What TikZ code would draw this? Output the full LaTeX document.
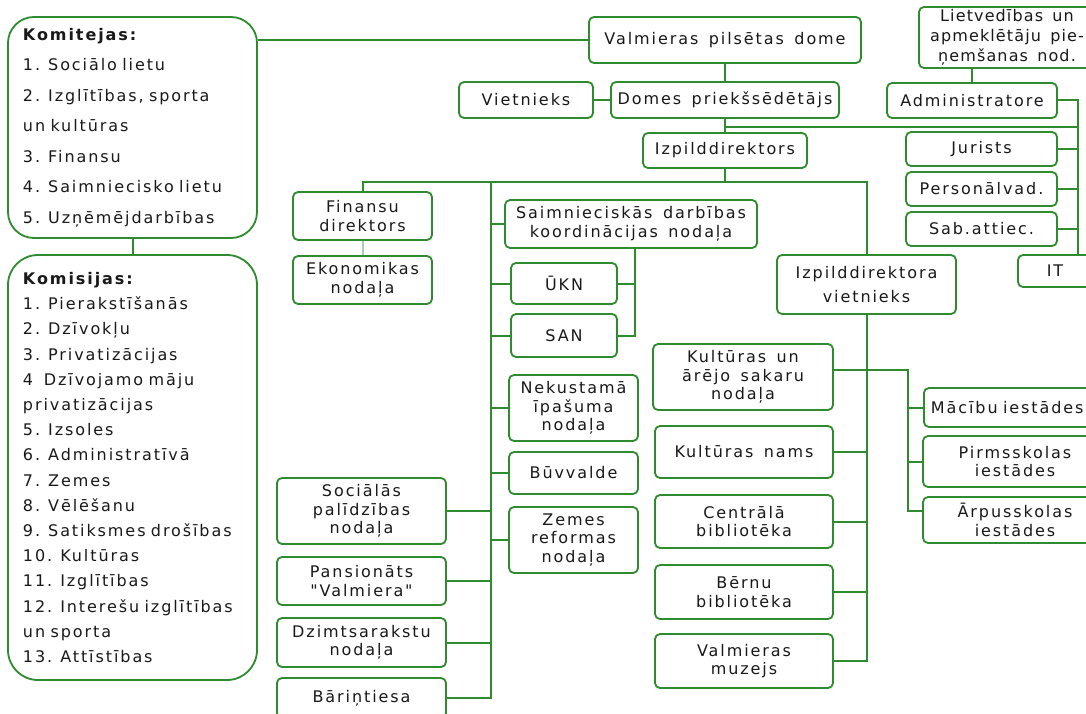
\documentclass[tikz,border=0pt]{standalone}
\usepackage{fontspec}
\setmainfont{DejaVu Sans}[LetterSpace=12,WordSpace=1.5]
\newfontfamily\plainquotefont{DejaVu Sans}[LetterSpace=12,WordSpace=1.5]
\definecolor{grn}{RGB}{46,139,46}
\definecolor{lgrn}{RGB}{170,210,170}
\tikzset{
 box/.style={draw=grn, line width=1.8pt, rounded corners=5pt, fill=white, inner sep=0pt, align=center, text=black!90, font=\fontsize{16}{18.5}\selectfont},
 bigbox/.style={box, rounded corners=26pt, align=left, inner xsep=15pt, text width=219pt},
 conn/.style={draw=grn, line width=2pt},
}
\newcommand\bx[7][]{\node[box,minimum width={(#5-#3)*1pt},minimum height={(#6-#4)*1pt},#1] (#2) at ({(#3+#5)/2},{(#4+#6)/2}) {#7};}
\begin{document}
\begin{tikzpicture}[x=1pt,y=-1pt]
\useasboundingbox (0,0) rectangle (1086,714);
\clip (0,0) rectangle (1086,714);
\fill[white] (0,0) rectangle (1086,714);
% left big boxes
\bx[bigbox,font=\fontsize{16}{30.5}\selectfont]{kom}{8}{17}{257}{238}{{\bfseries Komitejas:}\\1. Sociālo lietu\\2. Izglītības, sporta\\un kultūras\\3. Finansu\\4. Saimniecisko lietu\\5. Uzņēmējdarbības}
\bx[bigbox,rounded corners=30pt,font=\fontsize{16}{25.2}\selectfont]{koms}{8}{255}{257}{680}{{\bfseries Komisijas:}\\1. Pierakstīšanās\\2. Dzīvokļu\\3. Privatizācijas\\4~~Dzīvojamo māju\\privatizācijas\\5. Izsoles\\6. Administratīvā\\7. Zemes\\8. Vēlēšanu\\9. Satiksmes drošības\\10. Kultūras\\11. Izglītības\\12. Interešu izglītības\\un sporta\\13. Attīstības}
% top
\bx{dome}{589}{17}{861}{63}{Valmieras pilsētas dome}
\bx{viet}{459}{82}{593}{118}{Vietnieks}
\bx{pred}{611}{82}{839}{118}{Domes priekšsēdētājs}
\bx{izp}{643}{133}{807}{168}{Izpilddirektors}
% right top
\bx[font=\fontsize{16}{20}\selectfont\addfontfeatures{LetterSpace=7}]{lietv}{919}{7}{1095}{68}{Lietvedības un\\apmeklētāju pie-\\ņemšanas nod.}
\bx{admin}{887}{83}{1057}{118}{Administratore}
\bx{jur}{906}{132}{1057}{166}{Jurists}
\bx{pers}{906}{172}{1057}{206}{Personālvad.}
\bx{sab}{906}{212}{1057}{246}{Sab.attiec.}
\bx{it}{1018}{255}{1092}{287}{IT}
% middle
\bx{fin}{293}{192}{432}{240}{Finansu\\direktors}
\bx{eko}{293}{256}{432}{304}{Ekonomikas\\nodaļa}
\bx{saim}{505}{200}{757}{248}{Saimnieciskās darbības\\koordinācijas nodaļa}
\bx{ukn}{511}{263}{617}{304}{ŪKN}
\bx{san}{511}{314}{617}{357}{SAN}
\bx{nek}{509}{375}{638}{441}{Nekustamā\\īpašuma\\nodaļa}
\bx{buv}{509}{452}{638}{494}{Būvvalde}
\bx{zem}{509}{507}{638}{573}{Zemes\\reformas\\nodaļa}
\bx{soc}{277}{478}{446}{544}{Sociālās\\palīdzības\\nodaļa}
\bx[font=\fontsize{16}{18.5}\selectfont\plainquotefont]{pans}{277}{557}{446}{605}{Pansionāts\\"Valmiera"}
\bx{dz}{277}{618}{446}{667}{Dzimtsarakstu\\nodaļa}
\bx{bar}{277}{678}{446}{718}{Bāriņtiesa}
% right middle
\bx[font=\fontsize{16}{24}\selectfont]{izv}{777}{255}{956}{314}{Izpilddirektora\\vietnieks}
\bx{kult}{653}{344}{833}{410}{Kultūras un\\ārējo sakaru\\nodaļa}
\bx{knams}{655}{426}{833}{478}{Kultūras nams}
\bx{cent}{655}{495}{833}{548}{Centrālā\\bibliotēka}
\bx{bern}{655}{565}{833}{619}{Bērnu\\bibliotēka}
\bx{muz}{655}{634}{833}{688}{Valmieras\\muzejs}
\node[box,minimum height=39pt,text width=170pt,align=left,inner xsep=7pt,anchor=west] (mac) at (923,407.5) {Mācību iestādes};
\bx{pirm}{923}{436}{1107}{487}{Pirmsskolas\\iestādes}
\bx{ars}{923}{497}{1107}{543}{Ārpusskolas\\iestādes}
% connectors
\coordinate (tr) at (725,127);
\coordinate (rb) at (1078,255);
\coordinate (h) at (725,182);
\coordinate (vt) at (491,182);
\coordinate (bk) at (635,248);
\coordinate (sb) at (908,0);
\coordinate (sbb) at (908,511);
\draw[conn] (dome.west) -- (dome.west -| kom.east);
\draw[conn] (kom.south) -- (koms.north);
\draw[conn] (dome.south) -- (dome.south |- pred.north);
\draw[conn] (viet.east) -- (pred.west);
\draw[conn] (pred.south) -- (izp.north);
\draw[conn] (tr) -- (tr -| rb);
\draw[conn] (admin.east) -| (rb);
\draw[conn] (jur.east) -- (jur.east -| rb);
\draw[conn] (pers.east) -- (pers.east -| rb);
\draw[conn] (sab.east) -- (sab.east -| rb);
\draw[conn] (admin.north) -- (admin.north |- lietv.south);
\draw[conn] (izp.south) -- (h);
\draw[conn] (fin.north) |- (h) -| (izv.north);
\draw[conn] (vt) |- (bar.east);
\foreach \n in {saim,ukn,san,nek,buv,zem} \draw[conn] (\n.west) -- (\n.west -| vt);
\foreach \n in {soc,pans,dz} \draw[conn] (\n.east) -- (\n.east -| vt);
\draw[conn] (bk) |- (san.east);
\draw[conn] (ukn.east) -- (ukn.east -| bk);
\draw[conn,draw=lgrn] (fin.south) -- (eko.north);
\draw[conn] (izv.south) |- (muz.east);
\foreach \n in {knams,cent,bern} \draw[conn] (\n.east) -- (\n.east -| izv.south);
\draw[conn] ([yshift=7pt]kult.east) -| (sbb) -- (sbb -| ars.west);
\draw[conn] (mac.west) -- (mac.west -| sb);
\draw[conn] (pirm.west) -- (pirm.west -| sb);
\end{tikzpicture}
\end{document}
